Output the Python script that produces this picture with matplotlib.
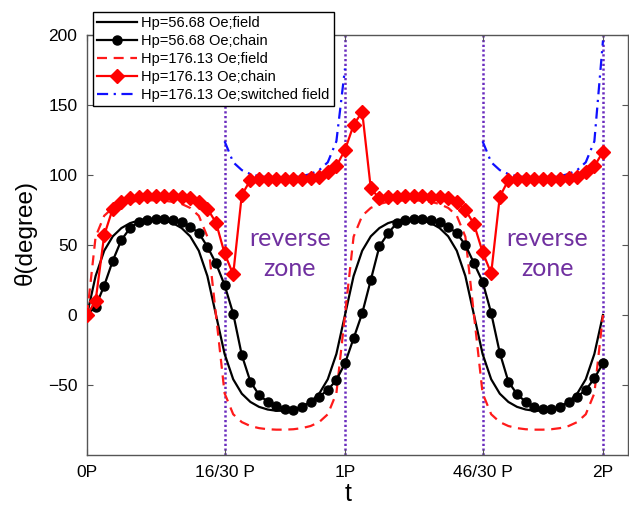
import matplotlib
matplotlib.use("Agg")
import matplotlib.pyplot as plt
import numpy as np

# time in steps of P/30, two periods
steps = np.arange(61)
t = steps / 30.0

# field direction for Hp=56.68 Oe
field_lo = [0, 27.8, 45.9, 56.2, 62.1, 65.6, 67.5, 68.4, 68.4, 67.5, 65.6, 62.1, 56.2, 45.9, 27.8,
            0, -27.8, -45.9, -56.2, -62.1, -65.6, -67.5, -68.4, -68.4, -67.5, -65.6, -62.1, -56.2, -45.9, -27.8,
            0, 27.8, 45.9, 56.2, 62.1, 65.6, 67.5, 68.4, 68.4, 67.5, 65.6, 62.1, 56.2, 45.9, 27.8,
            0, -27.8, -45.9, -56.2, -62.1, -65.6, -67.5, -68.4, -68.4, -67.5, -65.6, -62.1, -56.2, -45.9, -27.8,
            0]

# chain angle for Hp=56.68 Oe
chain_lo = [0, 6, 21, 38.8, 53.6, 62, 66.7, 68, 68.6, 68.6, 68, 66.7, 63, 58.6, 48.8,
            36.9, 21.4, 1, -28.6, -47.6, -57, -62, -64.8, -66.9, -67.5, -65.5, -62, -58.3, -53.6, -46.4,
            -34.5, -16.7, 1.2, 25, 49, 58.3, 65.5, 68, 68.6, 68.6, 68, 66.7, 63, 58.4, 50,
            37, 23.8, 1.4, -27, -47.6, -56.5, -62, -65.5, -67.4, -67.4, -65.5, -62, -58.3, -53.6, -45.2,
            -34.5]

# field direction for Hp=176.13 Oe
field_hi = [0, 55.9, 70.9, 76.5, 79.3, 80.8, 81.6, 81.9, 81.9, 81.6, 80.8, 79.3, 76.5, 70.9, 55.9,
            0, -55.9, -70.9, -76.5, -79.3, -80.8, -81.6, -81.9, -81.9, -81.6, -80.8, -79.3, -76.5, -70.9, -55.9,
            0, 55.9, 70.9, 76.5, 79.3, 80.8, 81.6, 81.9, 81.9, 81.6, 80.8, 79.3, 76.5, 70.9, 55.9,
            0, -55.9, -70.9, -76.5, -79.3, -80.8, -81.6, -81.9, -81.9, -81.6, -80.8, -79.3, -76.5, -70.9, -55.9,
            0]

# chain angle for Hp=176.13 Oe
chain_hi = [0, 10, 57, 76, 81, 83.3, 84.5, 85, 85, 85, 85, 84.5, 83.3, 81, 76,
            66, 44, 29, 85.7, 96.4, 97, 97, 97, 97, 97, 97, 97.6, 98.8, 102.4, 106.4,
            117.9, 135.7, 145.2, 90.5, 83.3, 84.5, 84.5, 84.8, 84.8, 84.8, 84.5, 84.5, 83.3, 80.5, 75,
            65, 45, 29.8, 84.5, 96.4, 97, 97, 97, 97, 97, 97, 97.6, 98.8, 102.4, 106.2,
            116.7]

# switched field inside the two reverse zones
zone1 = np.arange(16, 31)
zone2 = np.arange(46, 61)
switched1 = [124.1, 109.1, 103.5, 100.7, 99.2, 98.4, 98.1, 98.1, 98.4, 99.2, 100.7, 103.5, 109.1, 124.1, 176]
switched2 = [124.1, 109.1, 103.5, 100.7, 99.2, 98.4, 98.1, 98.1, 98.4, 99.2, 100.7, 103.5, 109.1, 124.1, 196]

zone_lines = [16 / 30, 1, 46 / 30, 2]
xtick_pos = [0, 16 / 30, 1, 46 / 30, 2]
xtick_labels = ['0P', '16/30 P', '1P', '46/30 P', '2P']
yticks = [-50, 0, 50, 100, 150, 200]

plt.rcParams['font.family'] = ['Liberation Sans', 'DejaVu Sans']

fig = plt.figure(figsize=(6.29, 5.09), dpi=100)
ax = fig.add_axes([87 / 629, 54 / 509, 541 / 629, 420 / 509])

purple = '#6a2cbf'
for xv in zone_lines:
    ax.axvline(xv, color=purple, lw=1.8, linestyle=(0, (0.9, 1.0)), zorder=1)

ax.plot(t, field_lo, color='black', lw=1.6, label='Hp=56.68 Oe;field', zorder=3)
ax.plot(t, chain_lo, color='black', lw=1.6, marker='o', ms=6.5,
        label='Hp=56.68 Oe;chain', zorder=4)
ax.plot(t, field_hi, color='#ff1a1a', lw=1.6, linestyle=(0, (4.5, 3)),
        label='Hp=176.13 Oe;field', zorder=3)
ax.plot(t, chain_hi, color='#ff0000', lw=1.6, marker='D', ms=6.8,
        label='Hp=176.13 Oe;chain', zorder=5)
ax.plot(zone1 / 30.0, switched1, color='#1010ff', lw=1.6, linestyle=(0, (5, 2.5, 1, 2.5)),
        label='Hp=176.13 Oe;switched field', zorder=3)
ax.plot(zone2 / 30.0, switched2, color='#1010ff', lw=1.6, linestyle=(0, (5, 2.5, 1, 2.5)), zorder=3)

for xc in [23.6 / 30, 53.5 / 30]:
    ax.text(xc, 44, 'reverse\nzone', color='#7030a0', fontsize=18, family=['Lato', 'DejaVu Sans'],
            ha='center', va='center', linespacing=1.4)

ax.set_xlim(0, 2.097)
ax.set_ylim(-100, 200)
ax.set_xticks(xtick_pos)
ax.set_xticklabels(xtick_labels)
ax.set_yticks(yticks)
ax.tick_params(direction='in', length=4, top=True, right=True, labelsize=12.5, pad=7, color='#555555')
for sp in ax.spines.values():
    sp.set_color('#555555')
    sp.set_linewidth(1.0)

ax.set_xlabel('t', fontsize=18)
ax.set_ylabel('θ(degree)', fontsize=17.5)
ax.xaxis.set_label_coords(0.482, -0.065)
ax.yaxis.set_label_coords(-0.092, 0.53)

leg = ax.legend(loc='upper left', bbox_to_anchor=(0.011, 1.055), borderaxespad=0,
                fontsize=10.5, handlelength=2.7, handletextpad=0.3, labelspacing=0.27,
                borderpad=0.3, fancybox=False, framealpha=1, edgecolor='black')
leg.get_frame().set_linewidth(1.0)
leg.set_zorder(10)

fig.savefig('out.png', dpi=100)
